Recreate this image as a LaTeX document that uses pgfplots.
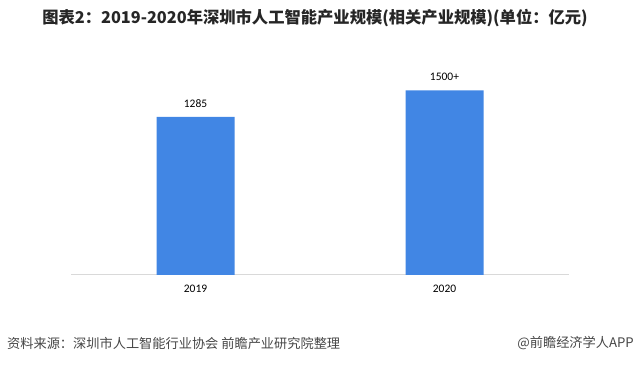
\documentclass[border=0pt]{standalone}
\usepackage{pgfplots}
\pgfplotsset{compat=1.18}
\usepackage{pgfplotstable}
\usepackage{fontspec}
\setmainfont{Noto Sans CJK SC}
\newfontfamily\numfont{Carlito}
\definecolor{barblue}{RGB}{65,134,228}
\definecolor{axisgray}{RGB}{217,217,217}
\definecolor{foot}{RGB}{70,70,70}
\definecolor{titlec}{RGB}{38,38,38}
\pgfplotstableread{
x y label
0 1285 1285
1 1500 1500+
}\datatable
\begin{document}
\begin{tikzpicture}
\path (0pt,0pt) rectangle (637pt,366pt);
\begin{axis}[
  at={(71pt,91pt)}, anchor=south west,
  scale only axis, width=498pt, height=209.1pt,
  xmin=-0.5, xmax=1.5, ymin=0, ymax=1700,
  axis y line=none,
  axis x line*=bottom,
  axis line style={axisgray, line width=1pt, -},
  xtick={0,1}, xticklabels={2019,2020},
  major tick length=0pt,
  xticklabel style={font=\numfont\fontsize{11.5}{12}\selectfont, text=black, yshift=-7pt},
  ybar, bar width=78pt,
  nodes near coords={\pgfplotspointmeta},
  point meta=explicit symbolic,
  every node near coord/.append style={font=\numfont\fontsize{11.5}{12}\selectfont, text=black, yshift=6pt},
  clip=false,
]
\addplot[fill=barblue, draw=none] table[x=x, y=y, meta=label] {\datatable};
\end{axis}
\node[text=titlec, font=\bfseries\fontsize{16.3}{18}\selectfont] at (315pt,348pt) {图表2：2019-2020年深圳市人工智能产业规模(相关产业规模)(单位：亿元)};
\node[anchor=west, text=foot, font=\fontsize{13.2}{14}\selectfont, inner sep=0pt] at (7pt,23pt) {资料来源：深圳市人工智能行业协会 前瞻产业研究院整理};
\node[anchor=east, text=foot, font=\fontsize{13.2}{14}\selectfont, inner sep=0pt] at (634pt,23pt) {@前瞻经济学人APP};
\end{tikzpicture}
\end{document}
